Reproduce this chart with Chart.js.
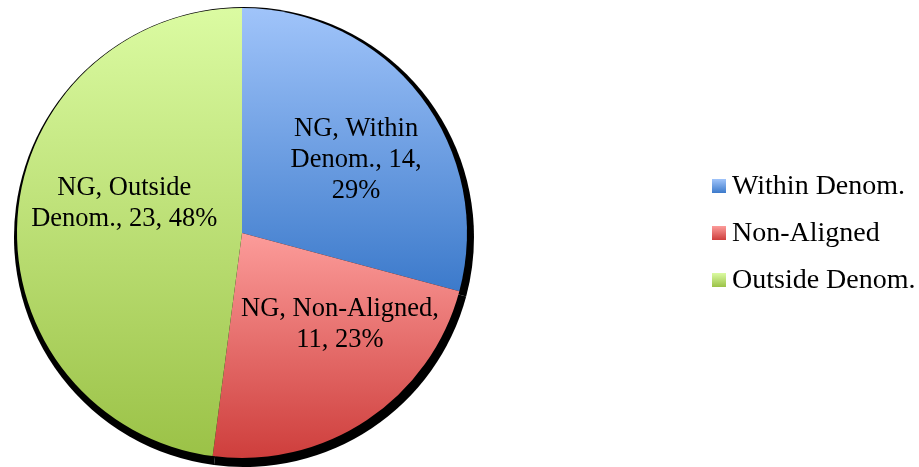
<!DOCTYPE html>
<html><head><meta charset="utf-8">
<script src="https://cdn.jsdelivr.net/npm/chart.js@4.4.0/dist/chart.umd.min.js"></script>
<style>html,body{margin:0;padding:0;background:#fff;} #wrap{width:919px;height:467px;position:relative;}</style>
</head><body><div id="wrap"><canvas id="c" width="919" height="467"></canvas></div>
<script>
const seriesName = 'NG';
const categories = ['Within Denom.', 'Non-Aligned', 'Outside Denom.'];
const values = [14, 11, 23];
const gradientTops = ['#A0C4FA', '#FC9C9A', '#DBFBA2'];
const gradientBottoms = ['#3C7ACB', '#CE3E3C', '#9BC247'];

const total = values.reduce((a, b) => a + b, 0);
const percentLabels = values.map(v => Math.round(v / total * 100) + '%');

function sliceGradient(ctx) {
  const chart = ctx.chart;
  const area = chart.chartArea;
  const i = ctx.dataIndex;
  if (!area) return gradientTops[i];
  const cx = (area.left + area.right) / 2, cy = (area.top + area.bottom) / 2;
  const r = Math.min(area.width, area.height) / 2;
  let before = 0;
  for (let k = 0; k < i; k++) before += values[k];
  const a0 = -Math.PI / 2 + before / total * 2 * Math.PI;
  const a1 = a0 + values[i] / total * 2 * Math.PI;
  const ys = [cy, cy + r * Math.sin(a0), cy + r * Math.sin(a1)];
  for (const t of [-Math.PI / 2, Math.PI / 2, 3 * Math.PI / 2]) {
    if (t >= a0 && t <= a1) ys.push(cy + r * Math.sin(t));
  }
  const g = chart.ctx.createLinearGradient(0, Math.min(...ys), 0, Math.max(...ys));
  g.addColorStop(0, gradientTops[i]);
  g.addColorStop(1, gradientBottoms[i]);
  return g;
}

const shadowPlugin = {
  id: 'sliceShadow',
  beforeDatasetsDraw(chart, args, opts) {
    const meta = chart.getDatasetMeta(0);
    const c = chart.ctx;
    c.save();
    c.fillStyle = '#000';
    meta.data.forEach(arc => {
      const p = arc.getProps(['x', 'y', 'startAngle', 'endAngle', 'outerRadius'], true);
      c.beginPath();
      c.moveTo(p.x + opts.dx, p.y + opts.dy);
      c.arc(p.x + opts.dx, p.y + opts.dy, p.outerRadius + opts.grow, p.startAngle, p.endAngle);
      c.closePath();
      c.fill();
    });
    c.restore();
  }
};

function wrapText(c, text, maxW) {
  const words = text.split(' ');
  const lines = [];
  let cur = '';
  words.forEach(w => {
    const test = cur ? cur + ' ' + w : w;
    if (cur && c.measureText(test).width > maxW) { lines.push(cur); cur = w; }
    else cur = test;
  });
  if (cur) lines.push(cur);
  return lines;
}

const labelPlugin = {
  id: 'sliceLabels',
  afterDatasetsDraw(chart, args, opts) {
    const meta = chart.getDatasetMeta(0);
    const c = chart.ctx;
    c.save();
    c.font = opts.font;
    c.fillStyle = '#000';
    c.textAlign = 'center';
    c.textBaseline = 'middle';
    meta.data.forEach((arc, i) => {
      const p = arc.getProps(['x', 'y', 'startAngle', 'endAngle', 'outerRadius'], true);
      const mid = (p.startAngle + p.endAngle) / 2;
      const r = p.outerRadius * opts.radiusFactor;
      const px = p.x + Math.cos(mid) * r + opts.offsets[i][0];
      const py = p.y + Math.sin(mid) * r + opts.offsets[i][1];
      const text = seriesName + ', ' + categories[i] + ', ' + values[i] + ', ' + percentLabels[i];
      const lines = wrapText(c, text, opts.wrapWidths[i]);
      lines.forEach((ln, k) => c.fillText(ln, px, py + (k - (lines.length - 1) / 2) * opts.lineHeight));
    });
    c.restore();
  }
};

const legendPlugin = {
  id: 'sideLegend',
  afterDraw(chart, args, opts) {
    const c = chart.ctx;
    c.save();
    c.font = opts.font;
    c.textBaseline = 'middle';
    c.textAlign = 'left';
    categories.forEach((cat, i) => {
      const yc = opts.top + i * opts.rowGap;
      const s = opts.box;
      const g = c.createLinearGradient(0, yc - s / 2, 0, yc + s / 2);
      g.addColorStop(0, gradientTops[i]);
      g.addColorStop(1, gradientBottoms[i]);
      c.fillStyle = g;
      c.fillRect(opts.left, yc - s / 2, s, s);
      c.fillStyle = '#000';
      c.fillText(cat, opts.left + s + opts.gap, yc + opts.textDy);
    });
    c.restore();
  }
};

new Chart(document.getElementById('c'), {
  type: 'pie',
  data: {
    labels: categories,
    datasets: [{
      data: values,
      backgroundColor: sliceGradient,
      borderWidth: 0,
      hoverOffset: 0
    }]
  },
  options: {
    responsive: false,
    animation: false,
    layout: { padding: { left: 17, top: 8, right: 452, bottom: 9 } },
    plugins: {
      legend: { display: false },
      tooltip: { enabled: false },
      sliceShadow: { dx: 2, dy: 4, grow: 5 },
      sliceLabels: {
        font: '26.5px "Liberation Serif", serif',
        lineHeight: 31,
        radiusFactor: 0.6,
        offsets: [[7, 9], [23, -21], [17, -21]],
        wrapWidths: [145, 210, 210]
      },
      sideLegend: {
        font: '28px "Liberation Serif", serif',
        left: 712, box: 14, gap: 6, top: 186, rowGap: 47, textDy: 1
      }
    }
  },
  plugins: [shadowPlugin, labelPlugin, legendPlugin]
});
</script>
</body></html>
